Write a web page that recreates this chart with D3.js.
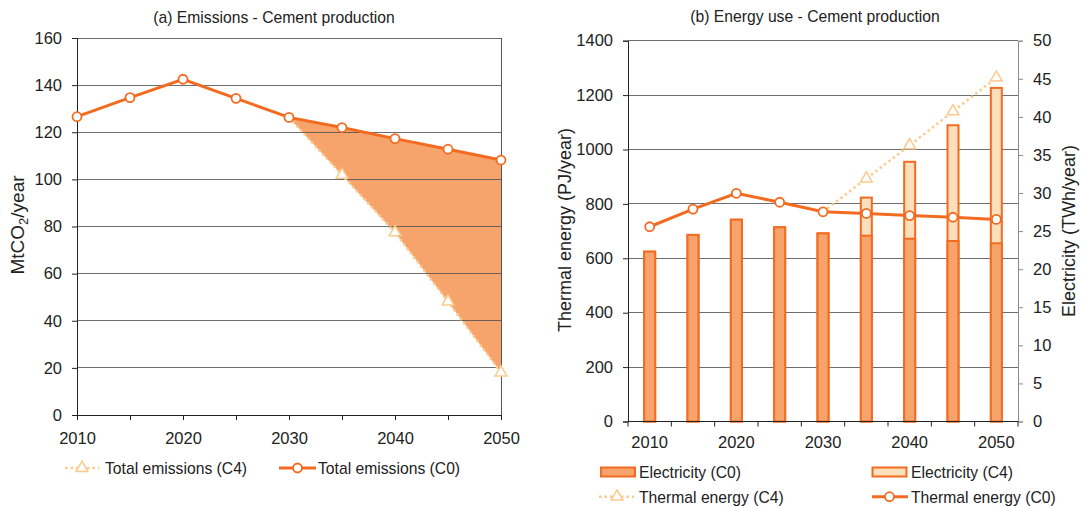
<!DOCTYPE html>
<html>
<head>
<meta charset="utf-8">
<script src="https://cdn.jsdelivr.net/npm/d3@7"></script>
<style>
  html, body { margin: 0; padding: 0; background: #fff; }
  svg { display: block; }
  text { font-family: "Liberation Sans", Arial, Helvetica, sans-serif; fill: #222; }
</style>
</head>
<body>
<svg id="chart" width="1081" height="506"></svg>
<script>
// ---- data ----
const years = [2010, 2015, 2020, 2025, 2030, 2035, 2040, 2045, 2050];

// (a) total CO2 emissions, Mt/year
const emissionsC0 = [126.6, 134.7, 142.5, 134.4, 126.3, 122.0, 117.3, 112.8, 108.2];
const emissionsC4 = [126.6, 134.7, 142.5, 134.4, 126.3, 101.9, 77.5, 48.1, 18.0];

// (b) electricity, TWh/year (right axis)
const electricityC0 = [22.3, 24.5, 26.5, 25.5, 24.7, 24.4, 24.0, 23.7, 23.4];
const electricityC4 = [22.3, 24.5, 26.5, 25.5, 24.7, 29.4, 34.1, 38.9, 43.8];

// (b) thermal energy, PJ/year (left axis)
const thermalC0 = [716, 781, 839, 806, 771, 765, 757, 751, 743];
const thermalC4 = [716, 781, 839, 806, 771, 893, 1015, 1140, 1264];

const emissionTicks = [0, 20, 40, 60, 80, 100, 120, 140, 160];
const thermalTicks = [0, 200, 400, 600, 800, 1000, 1200, 1400];
const electricityTicks = [0, 5, 10, 15, 20, 25, 30, 35, 40, 45, 50];
const yearLabels = [2010, 2020, 2030, 2040, 2050];

// ---- styling ----
const ORANGE = "#f26b21";
const ORANGE_FILL = "#f7a46c";
const LIGHT = "#fdca8c";
const LIGHT_FILL = "#fde0bb";
const GRID = "#555";
const TICK_FONT = "16.5px";
const TEXT_FONT = "15.7px";
const TITLE_FONT = "19px";

const svg = d3.select("#chart");

// ================= (a) Emissions =================
const A = { left: 77, right: 501, top: 38, bottom: 415 };
const xa = d3.scaleLinear().domain([2010, 2050]).range([A.left, A.right]);
const ya = d3.scaleLinear().domain([0, 160]).range([A.bottom, A.top]);
const ga = svg.append("g");

ga.append("text").attr("x", 274).attr("y", 23)
  .attr("text-anchor", "middle").style("font-size", TEXT_FONT)
  .text("(a) Emissions - Cement production");

// shaded reduction between C0 and C4 (2030 onwards)
const idx30 = years.indexOf(2030);
const areaData = years.map((y, i) => ({ y, hi: emissionsC0[i], lo: emissionsC4[i] })).slice(idx30);
ga.append("path").datum(areaData)
  .attr("d", d3.area().x(d => xa(d.y)).y0(d => ya(d.lo)).y1(d => ya(d.hi)))
  .attr("fill", ORANGE_FILL);

// gridlines
ga.append("g").selectAll("line").data(emissionTicks.filter(t => t > 0)).join("line")
  .attr("x1", A.left).attr("x2", A.right)
  .attr("y1", d => ya(d)).attr("y2", d => ya(d))
  .attr("stroke", GRID).attr("stroke-width", 1).attr("stroke-opacity", 0.85)
  .attr("shape-rendering", "crispEdges");
// right border
ga.append("line").attr("x1", A.right).attr("x2", A.right).attr("y1", A.top).attr("y2", A.bottom)
  .attr("stroke", GRID).attr("shape-rendering", "crispEdges");

// left axis
const axA = ga.append("g").attr("transform", `translate(${A.left},0)`)
  .call(d3.axisLeft(ya).tickValues(emissionTicks).tickSize(5).tickPadding(10));
axA.select(".domain").attr("stroke", "#222");
axA.selectAll(".tick line").attr("stroke", "#222");
axA.selectAll("text").style("font-size", TICK_FONT).attr("fill", "#222");

// bottom axis
const axAB = ga.append("g").attr("transform", `translate(0,${A.bottom})`)
  .call(d3.axisBottom(xa).tickValues(d3.range(2010, 2051, 5)).tickSize(5).tickPadding(12)
    .tickFormat(d => yearLabels.includes(d) ? String(d) : ""));
axAB.select(".domain").attr("stroke", "#222");
axAB.selectAll(".tick line").attr("stroke", "#222");
axAB.selectAll("text").style("font-size", TICK_FONT).attr("fill", "#222");

// y label
const yl = ga.append("text").attr("transform", "translate(24,225) rotate(-90)")
  .attr("text-anchor", "middle").style("font-size", TITLE_FONT);
yl.append("tspan").text("MtCO");
yl.append("tspan").text("2").style("font-size", "13px").attr("dy", 4);
yl.append("tspan").text("/year").attr("dy", -4);

// C4 dotted line + triangles
const tri = d3.symbol().type(d3.symbolTriangle).size(60);
ga.append("path").datum(emissionsC4.slice(idx30))
  .attr("d", d3.line().x((d, i) => xa(years[i + idx30])).y(d => ya(d)))
  .attr("fill", "none").attr("stroke", LIGHT).attr("stroke-width", 2.5).attr("stroke-dasharray", "2.5,3");
ga.append("g").selectAll("path").data(emissionsC4.map((v, i) => [years[i], v]).slice(idx30 + 1)).join("path")
  .attr("d", tri).attr("transform", d => `translate(${xa(d[0])},${ya(d[1])})`)
  .attr("fill", "#fff").attr("stroke", LIGHT).attr("stroke-width", 1.5);

// C0 line + circles
ga.append("path").datum(emissionsC0)
  .attr("d", d3.line().x((d, i) => xa(years[i])).y(d => ya(d)))
  .attr("fill", "none").attr("stroke", ORANGE).attr("stroke-width", 3);
ga.append("g").selectAll("circle").data(emissionsC0).join("circle")
  .attr("cx", (d, i) => xa(years[i])).attr("cy", d => ya(d)).attr("r", 4.5)
  .attr("fill", "#fff").attr("stroke", ORANGE).attr("stroke-width", 1.8);

// legend (a)
const la = ga.append("g").attr("transform", "translate(0,468)");
la.append("line").attr("x1", 65).attr("x2", 99).attr("y1", 0).attr("y2", 0)
  .attr("stroke", LIGHT).attr("stroke-width", 2.5).attr("stroke-dasharray", "2.5,3");
la.append("path").attr("d", tri).attr("transform", "translate(82,0)")
  .attr("fill", "#fff").attr("stroke", LIGHT).attr("stroke-width", 1.5);
la.append("text").attr("x", 105).attr("y", 5.5).style("font-size", TEXT_FONT).text("Total emissions (C4)");
la.append("line").attr("x1", 279).attr("x2", 316).attr("y1", 0).attr("y2", 0)
  .attr("stroke", ORANGE).attr("stroke-width", 3);
la.append("circle").attr("cx", 297.5).attr("cy", 0).attr("r", 4.5)
  .attr("fill", "#fff").attr("stroke", ORANGE).attr("stroke-width", 1.8);
la.append("text").attr("x", 318).attr("y", 5.5).style("font-size", TEXT_FONT).text("Total emissions (C0)");

// ================= (b) Energy use =================
const B = { left: 628, right: 1018, top: 40.7, bottom: 421.5 };
const xb = d3.scaleBand().domain(years).range([B.left, B.right]);
const yb = d3.scaleLinear().domain([0, 1400]).range([B.bottom, B.top]);
const yr = d3.scaleLinear().domain([0, 50]).range([B.bottom, B.top]);
const gb = svg.append("g");
const barW = 11;
const cx = y => xb(y) + xb.bandwidth() / 2;

gb.append("text").attr("x", 815).attr("y", 22)
  .attr("text-anchor", "middle").style("font-size", TEXT_FONT)
  .text("(b) Energy use - Cement production");

// gridlines
gb.append("g").selectAll("line").data(thermalTicks.filter(t => t > 0)).join("line")
  .attr("x1", B.left).attr("x2", B.right)
  .attr("y1", d => yb(d)).attr("y2", d => yb(d))
  .attr("stroke", GRID).attr("stroke-opacity", 0.85).attr("shape-rendering", "crispEdges");

// electricity bars: C4 behind, C0 in front
gb.append("g").selectAll("rect").data(years.map((y, i) => [y, electricityC4[i]])).join("rect")
  .attr("x", d => cx(d[0]) - barW / 2).attr("width", barW)
  .attr("y", d => yr(d[1])).attr("height", d => B.bottom - yr(d[1]))
  .attr("fill", LIGHT_FILL).attr("stroke", ORANGE).attr("stroke-width", 2);
gb.append("g").selectAll("rect").data(years.map((y, i) => [y, electricityC0[i]])).join("rect")
  .attr("x", d => cx(d[0]) - barW / 2).attr("width", barW)
  .attr("y", d => yr(d[1])).attr("height", d => B.bottom - yr(d[1]))
  .attr("fill", ORANGE_FILL).attr("stroke", ORANGE).attr("stroke-width", 2);

// left axis
const axB = gb.append("g").attr("transform", `translate(${B.left},0)`)
  .call(d3.axisLeft(yb).tickValues(thermalTicks).tickSize(5).tickPadding(10).tickFormat(d3.format("d")));
axB.select(".domain").attr("stroke", "#222");
axB.selectAll(".tick line").attr("stroke", "#222");
axB.selectAll("text").style("font-size", TICK_FONT).attr("fill", "#222");

// right axis
const axR = gb.append("g").attr("transform", `translate(${B.right},0)`)
  .call(d3.axisRight(yr).tickValues(electricityTicks).tickSize(5).tickPadding(10));
axR.select(".domain").attr("stroke", "#8a8a8a");
axR.selectAll(".tick line").attr("stroke", "#8a8a8a");
axR.selectAll("text").style("font-size", TICK_FONT).attr("fill", "#222");

// bottom axis: ticks at category boundaries, labels every 10 years
const bottom = gb.append("g").attr("transform", `translate(0,${B.bottom})`);
bottom.append("line").attr("x1", B.left).attr("x2", B.right).attr("stroke", "#222");
bottom.selectAll("line.t").data(years.map(y => xb(y)).concat([B.right])).join("line")
  .attr("class", "t").attr("x1", d => d).attr("x2", d => d).attr("y1", 0).attr("y2", 5).attr("stroke", "#222");
bottom.selectAll("text").data(yearLabels).join("text")
  .attr("x", d => cx(d)).attr("y", 26).attr("text-anchor", "middle")
  .style("font-size", TICK_FONT).text(d => d);

// axis titles
gb.append("text").attr("transform", "translate(571,230) rotate(-90)")
  .attr("text-anchor", "middle").style("font-size", "18px").text("Thermal energy (PJ/year)");
gb.append("text").attr("transform", "translate(1075,231) rotate(-90)")
  .attr("text-anchor", "middle").style("font-size", "18px").text("Electricity (TWh/year)");

// thermal C4 dotted + triangles
const idxB = years.indexOf(2030);
gb.append("path").datum(thermalC4.slice(idxB))
  .attr("d", d3.line().x((d, i) => cx(years[i + idxB])).y(d => yb(d)))
  .attr("fill", "none").attr("stroke", LIGHT).attr("stroke-width", 2.5).attr("stroke-dasharray", "2.5,3");
gb.append("g").selectAll("path").data(thermalC4.map((v, i) => [years[i], v]).slice(idxB + 1)).join("path")
  .attr("d", tri).attr("transform", d => `translate(${cx(d[0])},${yb(d[1])})`)
  .attr("fill", "#fff").attr("stroke", LIGHT).attr("stroke-width", 1.5);

// thermal C0 line + circles
gb.append("path").datum(thermalC0)
  .attr("d", d3.line().x((d, i) => cx(years[i])).y(d => yb(d)))
  .attr("fill", "none").attr("stroke", ORANGE).attr("stroke-width", 3);
gb.append("g").selectAll("circle").data(thermalC0).join("circle")
  .attr("cx", (d, i) => cx(years[i])).attr("cy", d => yb(d)).attr("r", 4.5)
  .attr("fill", "#fff").attr("stroke", ORANGE).attr("stroke-width", 1.8);

// legend (b)
const lb = gb.append("g");
lb.append("rect").attr("x", 601).attr("y", 467.5).attr("width", 34).attr("height", 9)
  .attr("fill", ORANGE_FILL).attr("stroke", ORANGE).attr("stroke-width", 2);
lb.append("text").attr("x", 639).attr("y", 477.5).style("font-size", TEXT_FONT).text("Electricity (C0)");
lb.append("rect").attr("x", 872.5).attr("y", 467.5).attr("width", 34).attr("height", 9)
  .attr("fill", LIGHT_FILL).attr("stroke", ORANGE).attr("stroke-width", 2);
lb.append("text").attr("x", 911).attr("y", 477.5).style("font-size", TEXT_FONT).text("Electricity (C4)");

lb.append("line").attr("x1", 599).attr("x2", 634).attr("y1", 496.7).attr("y2", 496.7)
  .attr("stroke", LIGHT).attr("stroke-width", 2.5).attr("stroke-dasharray", "2.5,3");
lb.append("path").attr("d", tri).attr("transform", "translate(617,496.7)")
  .attr("fill", "#fff").attr("stroke", LIGHT).attr("stroke-width", 1.5);
lb.append("text").attr("x", 639).attr("y", 502.5).style("font-size", TEXT_FONT).text("Thermal energy (C4)");
lb.append("line").attr("x1", 872).attr("x2", 908).attr("y1", 496.7).attr("y2", 496.7)
  .attr("stroke", ORANGE).attr("stroke-width", 3);
lb.append("circle").attr("cx", 889.5).attr("cy", 496.7).attr("r", 4.5)
  .attr("fill", "#fff").attr("stroke", ORANGE).attr("stroke-width", 1.8);
lb.append("text").attr("x", 911).attr("y", 502.5).style("font-size", TEXT_FONT).text("Thermal energy (C0)");
</script>
</body>
</html>
